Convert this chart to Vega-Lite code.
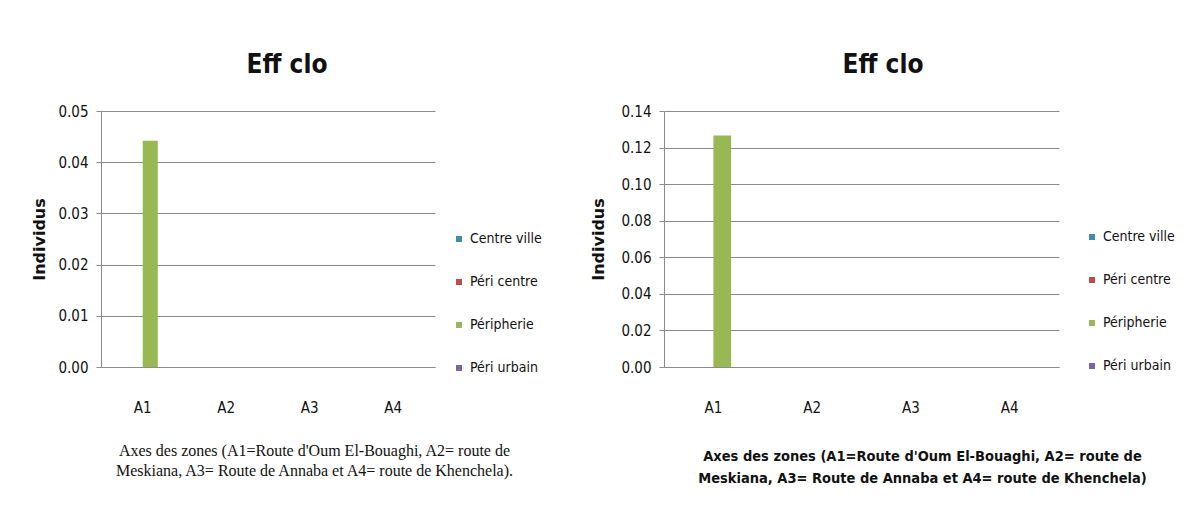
{
  "$schema": "https://vega.github.io/schema/vega-lite/v6.json",
  "background": "white",
  "padding": {"left": 31, "top": 52, "right": 5, "bottom": 5},
  "bounds": "flush",
  "spacing": 229,
  "datasets": {
    "gauche": [
      {"zone": "A1", "serie": "Centre ville", "valeur": 0},
      {"zone": "A1", "serie": "Péri centre", "valeur": 0},
      {"zone": "A1", "serie": "Péripherie", "valeur": 0.0442},
      {"zone": "A1", "serie": "Péri urbain", "valeur": 0},
      {"zone": "A2", "serie": "Centre ville", "valeur": 0},
      {"zone": "A2", "serie": "Péri centre", "valeur": 0},
      {"zone": "A2", "serie": "Péripherie", "valeur": 0},
      {"zone": "A2", "serie": "Péri urbain", "valeur": 0},
      {"zone": "A3", "serie": "Centre ville", "valeur": 0},
      {"zone": "A3", "serie": "Péri centre", "valeur": 0},
      {"zone": "A3", "serie": "Péripherie", "valeur": 0},
      {"zone": "A3", "serie": "Péri urbain", "valeur": 0},
      {"zone": "A4", "serie": "Centre ville", "valeur": 0},
      {"zone": "A4", "serie": "Péri centre", "valeur": 0},
      {"zone": "A4", "serie": "Péripherie", "valeur": 0},
      {"zone": "A4", "serie": "Péri urbain", "valeur": 0}
    ],
    "droite": [
      {"zone": "A1", "serie": "Centre ville", "valeur": 0},
      {"zone": "A1", "serie": "Péri centre", "valeur": 0},
      {"zone": "A1", "serie": "Péripherie", "valeur": 0.1266},
      {"zone": "A1", "serie": "Péri urbain", "valeur": 0},
      {"zone": "A2", "serie": "Centre ville", "valeur": 0},
      {"zone": "A2", "serie": "Péri centre", "valeur": 0},
      {"zone": "A2", "serie": "Péripherie", "valeur": 0},
      {"zone": "A2", "serie": "Péri urbain", "valeur": 0},
      {"zone": "A3", "serie": "Centre ville", "valeur": 0},
      {"zone": "A3", "serie": "Péri centre", "valeur": 0},
      {"zone": "A3", "serie": "Péripherie", "valeur": 0},
      {"zone": "A3", "serie": "Péri urbain", "valeur": 0},
      {"zone": "A4", "serie": "Centre ville", "valeur": 0},
      {"zone": "A4", "serie": "Péri centre", "valeur": 0},
      {"zone": "A4", "serie": "Péripherie", "valeur": 0},
      {"zone": "A4", "serie": "Péri urbain", "valeur": 0}
    ]
  },
  "config": {
    "view": {"stroke": null},
    "font": "DejaVu Sans Condensed, sans-serif",
    "title": {
      "font": "DejaVu Sans Condensed, sans-serif",
      "fontSize": 26,
      "fontWeight": "bold",
      "color": "#111111",
      "anchor": "middle",
      "frame": "bounds",
      "baseline": "alphabetic",
      "offset": 26
    },
    "axis": {
      "labelFont": "DejaVu Sans Condensed, sans-serif",
      "labelFontSize": 15,
      "labelColor": "#111111",
      "domainColor": "#8a8a8a",
      "tickColor": "#8a8a8a",
      "gridColor": "#8a8a8a",
      "gridOpacity": 1,
      "titleColor": "#111111"
    },
    "axisX": {
      "ticks": false,
      "tickSize": 0,
      "labelPadding": 33,
      "labelAngle": 0,
      "grid": false,
      "titlePadding": 27,
      "titleLineHeight": 20
    },
    "axisY": {
      "ticks": true,
      "tickSize": 5,
      "labelPadding": 8,
      "grid": true,
      "titleFont": "DejaVu Sans",
      "titleFontSize": 16,
      "titleFontWeight": "bold",
      "titlePadding": 10
    },
    "legend": {
      "orient": "none",
      "title": null,
      "symbolType": "square",
      "symbolSize": 36,
      "symbolStrokeWidth": 0,
      "labelFont": "DejaVu Sans Condensed, sans-serif",
      "labelFontSize": 14,
      "labelColor": "#111111",
      "labelOffset": 4,
      "rowPadding": 29,
      "padding": 0
    }
  },
  "resolve": {
    "scale": {"x": "independent", "y": "independent", "xOffset": "independent", "color": "independent"},
    "legend": {"color": "independent"}
  },
  "hconcat": [
    {
      "width": 334,
      "height": 256,
      "title": "Eff clo",
      "data": {"name": "gauche"},
      "mark": {"type": "bar"},
      "encoding": {
        "x": {
          "field": "zone", "type": "nominal", "sort": ["A1", "A2", "A3", "A4"],
          "scale": {"paddingInner": 0.28, "paddingOuter": 0.14},
          "axis": {
            "title": ["Axes des zones (A1=Route d'Oum El-Bouaghi, A2= route de", "Meskiana, A3= Route de Annaba et A4= route de Khenchela)."],
            "titleFont": "Liberation Serif",
            "titleFontSize": 16,
            "titleFontWeight": "normal",
            "titleX": 213
          }
        },
        "xOffset": {
          "field": "serie", "type": "nominal",
          "sort": ["Centre ville", "Péri centre", "Péripherie", "Péri urbain"],
          "scale": {"domain": ["Centre ville", "Péri centre", "Péripherie", "Péri urbain"], "paddingInner": 0, "paddingOuter": 0}
        },
        "y": {
          "field": "valeur", "type": "quantitative",
          "scale": {"domain": [0, 0.05], "nice": false},
          "axis": {"values": [0, 0.01, 0.02, 0.03, 0.04, 0.05], "format": ".2f", "title": "Individus"}
        },
        "color": {
          "field": "serie", "type": "nominal",
          "sort": ["Centre ville", "Péri centre", "Péripherie", "Péri urbain"],
          "scale": {"domain": ["Centre ville", "Péri centre", "Péripherie", "Péri urbain"], "range": ["#3f8cab", "#bd4b4b", "#97b853", "#7b669e"]},
          "legend": {"legendX": 351, "legendY": 121}
        }
      }
    },
    {
      "width": 395,
      "height": 256,
      "title": "Eff clo",
      "data": {"name": "droite"},
      "mark": {"type": "bar"},
      "encoding": {
        "x": {
          "field": "zone", "type": "nominal", "sort": ["A1", "A2", "A3", "A4"],
          "scale": {"paddingInner": 0.28, "paddingOuter": 0.14},
          "axis": {
            "title": ["Axes des zones (A1=Route d'Oum El-Bouaghi, A2= route de", "Meskiana, A3= Route de Annaba et A4= route de Khenchela)"],
            "titleFont": "DejaVu Sans Condensed, sans-serif",
            "titleFontSize": 14.5,
            "titleFontWeight": "bold",
            "titleX": 258,
            "titlePadding": 34,
            "titleLineHeight": 22
          }
        },
        "xOffset": {
          "field": "serie", "type": "nominal",
          "sort": ["Centre ville", "Péri centre", "Péripherie", "Péri urbain"],
          "scale": {"domain": ["Centre ville", "Péri centre", "Péripherie", "Péri urbain"], "paddingInner": 0, "paddingOuter": 0}
        },
        "y": {
          "field": "valeur", "type": "quantitative",
          "scale": {"domain": [0, 0.14], "nice": false},
          "axis": {"values": [0, 0.02, 0.04, 0.06, 0.08, 0.1, 0.12, 0.14], "format": ".2f", "title": "Individus", "titlePadding": 14}
        },
        "color": {
          "field": "serie", "type": "nominal",
          "sort": ["Centre ville", "Péri centre", "Péripherie", "Péri urbain"],
          "scale": {"domain": ["Centre ville", "Péri centre", "Péripherie", "Péri urbain"], "range": ["#3f8cab", "#bd4b4b", "#97b853", "#7b669e"]},
          "legend": {"legendX": 421, "legendY": 119}
        }
      }
    }
  ]
}
